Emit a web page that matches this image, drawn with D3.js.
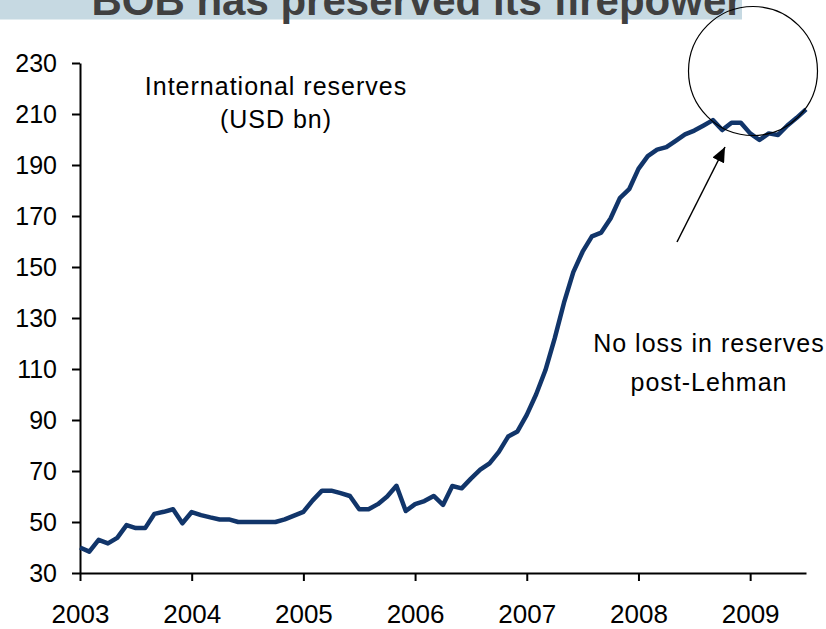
<!DOCTYPE html>
<html lang="en">

<head>
    <meta charset="UTF-8" />
    <title>BOB international reserves</title>

    <script src="https://d3js.org/d3.v7.min.js"></script>

    <style>
        body {
            margin: 0;
            background: #fff;
        }

        svg text {
            font-family: "Liberation Sans", Arial, sans-serif;
        }
    </style>

</head>

<body>

    <script>

        // monthly reserves, USD bn, Jan 2003 .. Jul 2009
        var reserves = [
            40, 38.4, 43, 41.6, 43.8, 48.8, 47.6, 47.6, 53.2, 54, 55, 49.5,   // 2003
            53.9, 52.7, 51.8, 51, 51, 50, 50, 50, 50, 50, 51, 52.5,           // 2004
            54, 58.5, 62.3, 62.3, 61.3, 60.2, 55, 55, 57, 60, 64.2, 54.3,     // 2005
            57, 58.2, 60.2, 56.7, 64.1, 63.2, 67, 70.5, 73, 77.5, 83.5, 85.5, // 2006
            92, 100, 109.5, 122, 136, 148, 156, 162, 163.5, 169, 177, 180.5,  // 2007
            188.5, 193.5, 196, 197, 199.5, 202, 203.5, 205.5, 207.6, 203.7, 206.6, 206.6, // 2008
            202.4, 199.8, 202.4, 201.8, 205.5, 208.5, 211.8                   // 2009
        ];

        var yearLabels = ["2003", "2004", "2005", "2006", "2007", "2008", "2009"];
        var yTicks = [30, 50, 70, 90, 110, 130, 150, 170, 190, 210, 230];

        var titleText = "BOB has preserved its firepower";
        var noteSeries = ["International reserves", "(USD bn)"];
        var noteLehman = ["No loss in reserves", "post-Lehman"];

        var w = 826;
        var h = 629;

        var svg = d3.select("body")
            .append("svg")
            .attr("width", w)
            .attr("height", h);

        // title band, cut at the top as in the slide
        svg.append("rect")
            .attr("x", 0)
            .attr("y", 0)
            .attr("width", 742)
            .attr("height", 19.5)
            .attr("fill", "#c6d9e2");

        svg.append("text")
            .attr("x", 417)
            .attr("y", 15)
            .attr("text-anchor", "middle")
            .attr("font-size", "42px")
            .attr("font-weight", "bold")
            .attr("fill", "#404040")
            .text(titleText);

        // scales: x is the month index
        var xScale = d3.scaleLinear()
            .domain([0, reserves.length - 1])
            .range([80, 806]);

        var yScale = d3.scaleLinear()
            .domain([30, 230])
            .range([573, 63]);

        // Y axis
        var yAxis = svg.append("g")
            .attr("transform", "translate(80, 0)")
            .call(d3.axisLeft(yScale)
                .tickValues(yTicks)
                .tickSizeInner(8)
                .tickSizeOuter(0)
                .tickPadding(15));

        // X axis, a tick at every January
        var xAxis = svg.append("g")
            .attr("transform", "translate(0, 573)")
            .call(d3.axisBottom(xScale)
                .tickValues(yearLabels.map(function (d, i) { return i * 12; }))
                .tickFormat(function (d, i) { return yearLabels[i]; })
                .tickSizeInner(8)
                .tickSizeOuter(0)
                .tickPadding(24));

        [yAxis, xAxis].forEach(function (g) {
            g.select(".domain").attr("stroke", "#000").attr("stroke-width", 2);
            g.selectAll(".tick line").attr("stroke", "#000").attr("stroke-width", 2);
            g.selectAll(".tick text")
                .attr("fill", "#000")
                .attr("font-family", "'Liberation Sans', Arial, sans-serif");
        });
        yAxis.selectAll(".tick text").attr("font-size", "25px");
        xAxis.selectAll(".tick text").attr("font-size", "26px");

        // reserves line
        svg.append("path")
            .datum(reserves)
            .attr("fill", "none")
            .attr("stroke", "#11356a")
            .attr("stroke-width", 4.5)
            .attr("stroke-linejoin", "round")
            .attr("d", d3.line()
                .x(function (d, i) { return xScale(i); })
                .y(function (d) { return yScale(d); })
            );

        // series note
        noteSeries.forEach(function (t, i) {
            svg.append("text")
                .attr("x", 276)
                .attr("y", 95 + i * 33)
                .attr("text-anchor", "middle")
                .attr("font-size", "25px")
                .attr("letter-spacing", "1px")
                .attr("fill", "#000")
                .text(t);
        });

        // Lehman note
        noteLehman.forEach(function (t, i) {
            svg.append("text")
                .attr("x", 709)
                .attr("y", 352 + i * 39)
                .attr("text-anchor", "middle")
                .attr("font-size", "25px")
                .attr("letter-spacing", "1px")
                .attr("fill", "#000")
                .text(t);
        });

        // arrow and circle
        svg.append("defs").append("marker")
            .attr("id", "head")
            .attr("viewBox", "0 0 10 10")
            .attr("refX", 10)
            .attr("refY", 5)
            .attr("markerWidth", 15)
            .attr("markerHeight", 13)
            .attr("markerUnits", "userSpaceOnUse")
            .attr("orient", "auto")
            .attr("preserveAspectRatio", "none")
            .append("path")
            .attr("d", "M0,0 L10,5 L0,10 Z")
            .attr("fill", "#000");

        svg.append("line")
            .attr("x1", 677)
            .attr("y1", 242)
            .attr("x2", 725)
            .attr("y2", 147)
            .attr("stroke", "#000")
            .attr("stroke-width", 1.5)
            .attr("marker-end", "url(#head)");

        svg.append("circle")
            .attr("cx", 753)
            .attr("cy", 71)
            .attr("r", 64.5)
            .attr("fill", "none")
            .attr("stroke", "#000")
            .attr("stroke-width", 1.2);

    </script>

</body>

</html>
